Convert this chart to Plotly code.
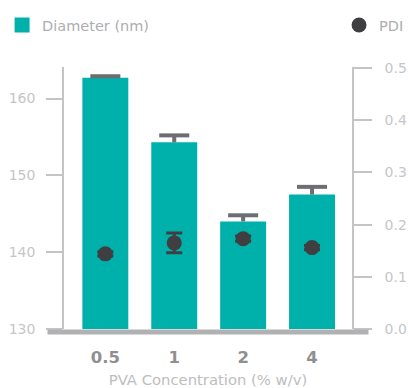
import plotly.graph_objects as go

# PVA concentration (% w/v) categories
categories = ["0.5", "1", "2", "4"]
# Particle diameter (nm) and its error
diameter = [162.7, 154.3, 144.0, 147.5]
diameter_err = [0.2, 0.9, 0.8, 1.0]
# Polydispersity index and its error
pdi = [0.144, 0.165, 0.173, 0.156]
pdi_err = [0.004, 0.019, 0.005, 0.004]

left_ticks = [130, 140, 150, 160]
right_ticks = [0.0, 0.1, 0.2, 0.3, 0.4, 0.5]

TEAL = "#00b1ab"
DARK = "#3f3f41"
ERR_GREY = "#6d6e71"
AXIS_GREY = "#c4c4c6"
LABEL_GREY = "#c6c6c8"
FONT = "DejaVu Sans"

xpos = list(range(len(categories)))
cap_half = 0.218

fig = go.Figure()

fig.add_trace(go.Bar(
    x=xpos, y=[d - 130 for d in diameter], base=130, width=0.667,
    marker=dict(color=TEAL, line=dict(width=0)),
    showlegend=False, hoverinfo="skip",
))

# upward-only error bars for the diameter bars
ex, ey = [], []
for x, d, e in zip(xpos, diameter, diameter_err):
    ex += [x, x, None, x - cap_half, x + cap_half, None]
    ey += [d, d + e, None, d + e, d + e, None]
fig.add_trace(go.Scatter(
    x=ex, y=ey, mode="lines", line=dict(color=ERR_GREY, width=4),
    showlegend=False, hoverinfo="skip",
))

fig.add_trace(go.Scatter(
    x=xpos, y=pdi, yaxis="y2", mode="markers",
    marker=dict(color=DARK, size=15),
    error_y=dict(type="data", array=pdi_err, color=DARK, thickness=3, width=8),
    showlegend=False,
))

# legend entries
fig.add_trace(go.Scatter(
    x=[None], y=[None], mode="markers", name="Diameter (nm)", legend="legend",
    marker=dict(symbol="square", color=TEAL, size=15),
))
fig.add_trace(go.Scatter(
    x=[None], y=[None], mode="markers", name="PDI", yaxis="y2", legend="legend2",
    marker=dict(symbol="circle", color=DARK, size=15),
))

legend_font = dict(size=14.5, color="#aeaeb0", family=FONT)

fig.update_layout(
    width=408, height=388,
    margin=dict(l=64, r=56, t=67, b=59, autoexpand=False),
    paper_bgcolor="white", plot_bgcolor="white",
    font=dict(family=FONT, color=LABEL_GREY),
    showlegend=True,
    legend=dict(
        x=-0.215, xanchor="left", y=1.16, yanchor="middle",
        font=legend_font, bgcolor="rgba(0,0,0,0)",
    ),
    legend2=dict(
        x=0.955, xanchor="left", y=1.16, yanchor="middle",
        font=legend_font, bgcolor="rgba(0,0,0,0)",
    ),
    xaxis=dict(
        range=[-0.6, 3.58], tickvals=xpos, ticktext=categories,
        showline=False, showgrid=False, zeroline=False, ticks="",
        tickfont=dict(size=16.5, color="#8f8f91", weight="bold", family=FONT),
        ticklabelstandoff=16,
        title=dict(text="PVA Concentration (% w/v)",
                   font=dict(size=14.8, color="#bdbdbf", family=FONT), standoff=10),
    ),
    yaxis=dict(
        range=[130, 164.1], tickvals=left_ticks,
        showline=True, linecolor=AXIS_GREY, linewidth=1.5,
        ticks="outside", ticklen=16, tickwidth=1.5, tickcolor=AXIS_GREY,
        showgrid=False, zeroline=False, ticklabelstandoff=8,
        tickfont=dict(size=14, color=LABEL_GREY, family=FONT),
    ),
    yaxis2=dict(
        range=[0, 0.502], tickvals=right_ticks, tickformat=".1f",
        overlaying="y", side="right",
        showline=True, linecolor=AXIS_GREY, linewidth=1.5,
        ticks="outside", ticklen=18, tickwidth=1.5, tickcolor=AXIS_GREY,
        showgrid=False, zeroline=False, ticklabelstandoff=10,
        tickfont=dict(size=14, color=LABEL_GREY, family=FONT),
    ),
    shapes=[dict(
        type="line", xref="paper", yref="paper",
        xsizemode="pixel", xanchor=0, x0=-16.5, x1=304.5,
        ysizemode="pixel", yanchor=0, y0=-3, y1=-3,
        line=dict(color="#b1b1b3", width=5), layer="above",
    )],
)

fig.write_html("out.html")
